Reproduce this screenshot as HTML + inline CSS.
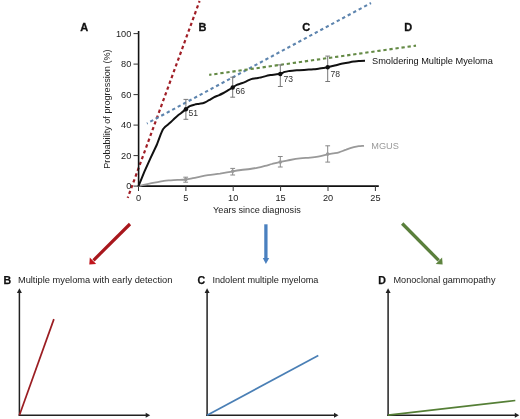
<!DOCTYPE html>
<html><head><meta charset="utf-8"><style>
html,body{margin:0;padding:0;background:#fff;}
body{width:520px;height:419px;overflow:hidden;}
svg{display:block;font-family:"Liberation Sans",sans-serif;will-change:transform;}
</style></head><body>
<svg width="520" height="419" viewBox="0 0 520 419">
<g font-weight="bold" font-size="11" fill="#111" stroke="#111" stroke-width="0.3">
<text x="80.3" y="31.2">A</text>
<text x="198.6" y="31">B</text>
<text x="302.3" y="31">C</text>
<text x="404.3" y="31">D</text>
</g>
<line x1="199.6" y1="1" x2="127.7" y2="197.9" stroke="#a01e26" stroke-width="2.2" stroke-dasharray="3.3 2.87" stroke-dashoffset="1.5"/>
<line x1="146.9" y1="123.5" x2="371" y2="3" stroke="#5d84ae" stroke-width="2.1" stroke-dasharray="3.3 2.927" stroke-dashoffset="2.4"/>
<line x1="416" y1="45.6" x2="209.2" y2="74.9" stroke="#648a45" stroke-width="2.1" stroke-dasharray="3.3 2.8" stroke-dashoffset="0.84"/>
<g stroke="#111" stroke-width="1.6" fill="none">
<line x1="138.6" y1="31" x2="138.6" y2="186.9"/>
<line x1="137.8" y1="186.1" x2="378.8" y2="186.1"/>
</g>
<g stroke="#333" stroke-width="1">
<line x1="133.5" y1="186.1" x2="138.5" y2="186.1"/>
<line x1="133.5" y1="155.6" x2="138.5" y2="155.6"/>
<line x1="133.5" y1="125.1" x2="138.5" y2="125.1"/>
<line x1="133.5" y1="94.6" x2="138.5" y2="94.6"/>
<line x1="133.5" y1="64.1" x2="138.5" y2="64.1"/>
<line x1="133.5" y1="33.6" x2="138.5" y2="33.6"/>
<line x1="138.5" y1="186" x2="138.5" y2="191"/>
<line x1="185.9" y1="186" x2="185.9" y2="191"/>
<line x1="233.2" y1="186" x2="233.2" y2="191"/>
<line x1="280.6" y1="186" x2="280.6" y2="191"/>
<line x1="328.0" y1="186" x2="328.0" y2="191"/>
<line x1="375.4" y1="186" x2="375.4" y2="191"/>
</g>
<g font-size="9.2" fill="#222" text-anchor="end">
<text x="131.3" y="189.4">0</text>
<text x="131.3" y="158.9">20</text>
<text x="131.3" y="128.4">40</text>
<text x="131.3" y="97.9">60</text>
<text x="131.3" y="67.4">80</text>
<text x="131.3" y="36.9">100</text>
</g>
<g font-size="9.2" fill="#222" text-anchor="middle">
<text x="138.5" y="200.6">0</text>
<text x="185.9" y="200.6">5</text>
<text x="233.2" y="200.6">10</text>
<text x="280.6" y="200.6">15</text>
<text x="328.0" y="200.6">20</text>
<text x="375.4" y="200.6">25</text>
</g>
<text x="213.1" y="213.3" font-size="9.1" fill="#222">Years since diagnosis</text>
<text transform="translate(110.3 168.7) rotate(-90)" font-size="9.1" fill="#222">Probability of progression (%)</text>
<path d="M138.5 186.1 C140.2 185.7 145.0 184.6 148.4 183.9 C151.8 183.2 156.2 182.4 158.8 181.9 C161.4 181.4 162.3 181.2 164.0 180.9 C165.7 180.7 166.9 180.6 169.2 180.4 C171.4 180.2 174.8 180.1 177.5 179.9 C180.2 179.8 183.3 179.8 185.7 179.5 C188.1 179.2 190.1 178.7 192.0 178.3 C193.9 177.9 194.3 177.8 197.0 177.3 C199.7 176.8 204.2 175.8 208.0 175.2 C211.8 174.6 215.9 174.2 220.0 173.6 C224.1 172.9 229.2 171.9 232.7 171.3 C236.2 170.7 238.1 170.4 241.0 170.0 C243.9 169.6 247.2 169.4 250.0 169.0 C252.8 168.6 255.5 168.1 258.0 167.6 C260.5 167.1 262.7 166.5 265.0 165.9 C267.3 165.3 269.4 164.7 272.0 164.0 C274.6 163.3 277.3 162.5 280.3 161.8 C283.3 161.1 286.7 160.6 290.0 160.0 C293.3 159.4 296.7 158.8 300.0 158.4 C303.3 158.0 307.0 157.9 310.0 157.6 C313.0 157.3 315.1 157.1 318.0 156.6 C320.9 156.1 325.1 154.9 327.7 154.3 C330.3 153.8 331.6 153.6 333.5 153.3 C335.4 153.0 336.9 152.9 339.0 152.3 C341.1 151.7 343.7 150.5 346.2 149.7 C348.7 148.8 351.7 147.8 353.8 147.2 C355.9 146.6 357.1 146.4 358.8 146.2 C360.5 146.0 363.1 145.9 364.0 145.8" fill="none" stroke="#999" stroke-width="1.8"/>
<g stroke="#888" stroke-width="1" fill="none">
<line x1="185.7" y1="177.2" x2="185.7" y2="182.2"/>
<line x1="183.3" y1="177.2" x2="188.1" y2="177.2"/>
<line x1="183.3" y1="182.2" x2="188.1" y2="182.2"/>
<line x1="232.7" y1="168.4" x2="232.7" y2="175.0"/>
<line x1="230.3" y1="168.4" x2="235.1" y2="168.4"/>
<line x1="230.3" y1="175.0" x2="235.1" y2="175.0"/>
<line x1="280.3" y1="156.5" x2="280.3" y2="167.0"/>
<line x1="277.9" y1="156.5" x2="282.7" y2="156.5"/>
<line x1="277.9" y1="167.0" x2="282.7" y2="167.0"/>
<line x1="327.7" y1="145.8" x2="327.7" y2="162.1"/>
<line x1="325.3" y1="145.8" x2="330.1" y2="145.8"/>
<line x1="325.3" y1="162.1" x2="330.1" y2="162.1"/>
</g>
<g fill="#999">
<circle cx="185.7" cy="179.5" r="1.8"/>
<circle cx="232.7" cy="171.3" r="1.8"/>
<circle cx="280.3" cy="162.1" r="1.8"/>
<circle cx="327.7" cy="154.1" r="1.8"/>
</g>
<text x="371.3" y="148.8" font-size="9.2" fill="#999">MGUS</text>
<g stroke="#777" stroke-width="1" fill="none">
<line x1="185.9" y1="99.4" x2="185.9" y2="119.3"/>
<line x1="183.5" y1="99.4" x2="188.3" y2="99.4"/>
<line x1="183.5" y1="119.3" x2="188.3" y2="119.3"/>
<line x1="232.7" y1="77.2" x2="232.7" y2="97.2"/>
<line x1="230.3" y1="77.2" x2="235.1" y2="77.2"/>
<line x1="230.3" y1="97.2" x2="235.1" y2="97.2"/>
<line x1="280.3" y1="64.9" x2="280.3" y2="86.5"/>
<line x1="277.9" y1="64.9" x2="282.7" y2="64.9"/>
<line x1="277.9" y1="86.5" x2="282.7" y2="86.5"/>
<line x1="327.7" y1="56.1" x2="327.7" y2="81.5"/>
<line x1="325.3" y1="56.1" x2="330.1" y2="56.1"/>
<line x1="325.3" y1="81.5" x2="330.1" y2="81.5"/>
</g>
<path d="M138.5 186.1 L144.3 171.8 L150.5 158.1 L156.7 145.0 L160.6 134.6  C160.9 133.9 161.9 131.4 162.5 130.2 C163.1 129.0 163.6 128.5 164.4 127.6 C165.2 126.7 166.4 125.9 167.5 125.0 C168.6 124.1 169.8 123.1 170.9 122.1 C172.0 121.1 173.1 119.9 174.2 118.8 C175.3 117.7 176.5 116.6 177.6 115.7 C178.7 114.8 179.6 114.2 180.9 113.2 C182.2 112.2 184.2 110.6 185.7 109.4 C187.2 108.2 188.3 107.0 189.8 106.2 C191.3 105.4 193.0 105.0 194.6 104.6 C196.2 104.2 197.8 104.1 199.4 103.8 C201.0 103.5 202.6 103.4 204.2 102.8 C205.8 102.2 207.4 101.1 209.0 100.2 C210.6 99.3 212.2 98.2 213.8 97.4 C215.4 96.6 217.1 96.0 218.7 95.3 C220.3 94.6 221.9 93.8 223.5 93.0 C225.1 92.2 226.8 91.1 228.3 90.2 C229.9 89.3 231.4 88.4 232.8 87.5 C234.2 86.6 235.3 85.6 236.8 84.9 C238.3 84.2 240.0 83.9 241.6 83.3 C243.2 82.7 244.8 82.0 246.4 81.3 C248.0 80.6 249.6 79.6 251.2 79.1 C252.8 78.6 254.4 78.5 256.0 78.2 C257.6 77.9 259.2 77.8 260.8 77.4 C262.4 77.1 264.1 76.5 265.7 76.1 C267.3 75.7 268.9 75.4 270.5 75.1 C272.1 74.8 273.7 74.7 275.3 74.5 C276.9 74.3 278.6 74.2 280.2 73.8 C281.8 73.4 283.2 72.4 284.8 71.9 C286.4 71.4 288.0 71.2 289.6 70.9 C291.2 70.7 292.8 70.5 294.4 70.4 C296.0 70.3 297.6 70.3 299.2 70.2 C300.8 70.1 302.4 70.0 304.0 69.9 C305.6 69.8 307.2 69.7 308.8 69.6 C310.4 69.5 312.1 69.4 313.7 69.3 C315.3 69.2 316.9 68.9 318.5 68.7 C320.1 68.5 321.8 68.2 323.3 68.0 C324.9 67.8 325.9 67.7 327.8 67.3 C329.7 66.9 332.7 66.0 334.6 65.5 C336.5 65.0 337.8 64.7 339.4 64.3 C341.0 63.9 342.6 63.6 344.2 63.3 C345.8 63.0 347.4 62.7 349.0 62.4 C350.6 62.1 352.2 61.8 353.8 61.6 C355.4 61.4 356.8 61.2 358.7 61.1 C360.6 61.0 363.9 60.8 365.0 60.8" fill="none" stroke="#111" stroke-width="2"/>
<g fill="#111">
<circle cx="185.9" cy="109.3" r="2.2"/>
<circle cx="232.7" cy="87.5" r="2.2"/>
<circle cx="280.3" cy="74.0" r="2.2"/>
<circle cx="327.7" cy="67.2" r="2.2"/>
</g>
<g font-size="8.6" fill="#333">
<text x="188.5" y="116.2">51</text>
<text x="235.6" y="94.4">66</text>
<text x="283.6" y="82.4">73</text>
<text x="330.6" y="76.7">78</text>
</g>
<text x="372" y="64.3" font-size="9.22" fill="#111">Smoldering Multiple Myeloma</text>
<line x1="130" y1="224" x2="93.5" y2="260.3" stroke="#a8171d" stroke-width="3.2"/>
<polygon points="89.3,264.4 89.8,257.5 96.2,263.9" fill="#c0151c"/>
<line x1="265.9" y1="224.3" x2="265.9" y2="259" stroke="#4a80bf" stroke-width="3.3"/>
<polygon points="262.8,258 269.2,258 265.9,264" fill="#4a80bf"/>
<line x1="402.2" y1="223.5" x2="438.7" y2="260.4" stroke="#5a7f3c" stroke-width="3.3"/>
<polygon points="442.6,264.4 442.1,257.5 435.7,263.9" fill="#5e843f"/>
<g stroke="#222" stroke-width="1.5" fill="none">
<line x1="19.4" y1="415.9" x2="19.4" y2="292"/>
<line x1="18.7" y1="415.2" x2="146.2" y2="415.2"/>
</g>
<polygon points="19.4,288.3 16.9,293 21.9,293" fill="#222"/>
<polygon points="150.2,415.2 145.7,412.7 145.7,417.7" fill="#222"/>
<line x1="19.4" y1="415.2" x2="53.9" y2="319.1" stroke="#9b1d22" stroke-width="1.7"/>
<text x="3.5" y="284.1" font-size="10.6" font-weight="bold" fill="#111" stroke="#111" stroke-width="0.25">B</text>
<text x="17.9" y="282.7" font-size="9.30" fill="#222">Multiple myeloma with early detection</text>
<g stroke="#222" stroke-width="1.5" fill="none">
<line x1="207.1" y1="415.9" x2="207.1" y2="292"/>
<line x1="206.4" y1="415.2" x2="334.5" y2="415.2"/>
</g>
<polygon points="207.1,288.3 204.6,293 209.6,293" fill="#222"/>
<polygon points="338.5,415.2 334.0,412.7 334.0,417.7" fill="#222"/>
<line x1="207.1" y1="415.2" x2="318.3" y2="355.6" stroke="#4a7fb5" stroke-width="1.7"/>
<text x="197.6" y="284.1" font-size="10.6" font-weight="bold" fill="#111" stroke="#111" stroke-width="0.25">C</text>
<text x="212.4" y="282.7" font-size="9.15" fill="#222">Indolent multiple myeloma</text>
<g stroke="#222" stroke-width="1.5" fill="none">
<line x1="388.1" y1="415.9" x2="388.1" y2="292"/>
<line x1="387.4" y1="415.2" x2="515.3" y2="415.2"/>
</g>
<polygon points="388.1,288.3 385.6,293 390.6,293" fill="#222"/>
<polygon points="519.3,415.2 514.8,412.7 514.8,417.7" fill="#222"/>
<line x1="388.1" y1="415.2" x2="515.3" y2="400.5" stroke="#557f36" stroke-width="1.7"/>
<text x="378.2" y="284.1" font-size="10.6" font-weight="bold" fill="#111" stroke="#111" stroke-width="0.25">D</text>
<text x="393.5" y="282.7" font-size="9.15" fill="#222">Monoclonal gammopathy</text>
</svg>
</body></html>
